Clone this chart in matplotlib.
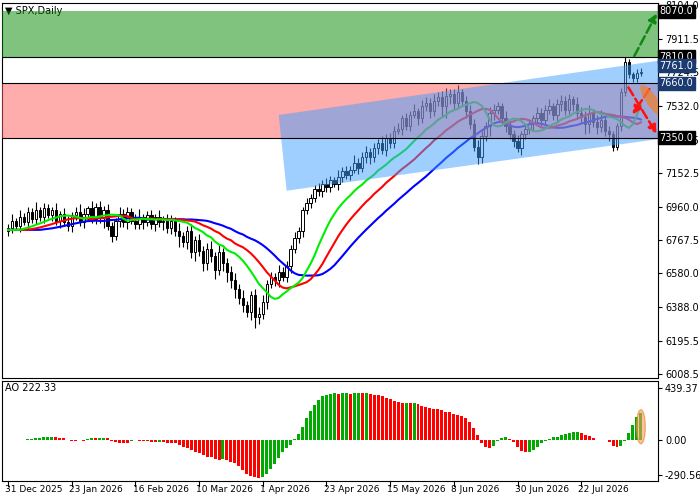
import numpy as np
import pandas as pd
import matplotlib
matplotlib.use("Agg")
import matplotlib.pyplot as plt
from matplotlib.patches import Rectangle, Polygon, Ellipse
import matplotlib.transforms as mtrans

closes = [6840, 6880, 6850, 6900, 6870, 6930, 6890, 6940, 6900,
          6950, 6910, 6940, 6880, 6920, 6870, 6850, 6910, 6930,
          6870, 6920, 6950, 6890, 6960, 6900, 6940, 6850, 6790, 6880,
          6920, 6870, 6930, 6880, 6860, 6900, 6870, 6910, 6860, 6900, 6870,
          6880, 6840, 6880, 6820, 6790, 6760, 6820, 6700, 6770, 6710, 6640, 6720, 6680,
          6600, 6700, 6640, 6590, 6540, 6490, 6440, 6400,
          6360, 6460, 6330, 6350, 6420, 6520, 6560, 6540, 6590, 6560, 6620, 6720, 6780, 6820, 6940, 6980, 7010,
          7060, 7050, 7090, 7070, 7110, 7090, 7130, 7160, 7140, 7170,
          7210, 7180, 7240, 7270, 7240, 7290, 7320, 7280, 7350, 7320,
          7390, 7400, 7460, 7420, 7480, 7500, 7460, 7530, 7550, 7500,
          7560, 7580, 7530, 7590, 7600, 7550, 7610, 7560,
          7500, 7430, 7300, 7240, 7360, 7420, 7490,
          7510, 7530, 7460, 7420, 7370, 7330, 7290, 7370, 7400, 7430,
          7460, 7490, 7450, 7510, 7530, 7480, 7540, 7560, 7510, 7570,
          7540, 7490, 7470, 7430, 7490, 7440, 7410, 7450, 7390, 7370, 7300,
          7420, 7610, 7780, 7710, 7690, 7720, 7724.5]
wick_up = [20, 35, 15, 40, 25, 30, 20, 45, 15, 30, 25, 20, 40, 15, 30, 35, 20, 25, 45, 30,
           15, 40, 20, 30, 25, 35, 20, 15, 40, 25, 30, 20, 35, 45, 15, 25, 30, 20, 40, 25,
           35, 30, 20, 45, 25, 30, 40, 20, 35, 25, 30, 45, 20, 40, 25, 30, 35, 40, 30, 45,
           25, 20, 30, 40, 35, 25, 30, 20, 40, 25, 30, 20, 35, 25, 15, 30, 20, 25, 35, 20,
           30, 25, 20, 35, 25, 30, 20, 40, 25, 30, 35, 20, 30, 25, 40, 20, 30, 25, 35, 20,
           30, 25, 40, 20, 35, 30, 25, 40, 30, 35, 45, 30, 25, 40, 20, 30, 35, 25, 40, 30,
           20, 35, 30, 25, 20, 40, 30, 25, 35, 20, 30, 25, 20, 35, 30, 25, 40, 20, 30, 35,
           25, 30, 20, 40, 35, 30, 45, 25, 40, 60, 30, 25, 20, 15, 25, 30, 20, 15]
wick_dn = [25, 30, 20, 35, 15, 40, 25, 30, 20, 35, 15, 30, 25, 40, 20, 30, 35, 25, 20, 30,
           40, 25, 30, 35, 60, 25, 30, 20, 35, 25, 40, 20, 30, 25, 35, 20, 30, 40, 25, 45,
           30, 35, 25, 60, 30, 40, 35, 50, 30, 45, 40, 35, 50, 30, 45, 60, 40, 50, 35, 40,
           30, 45, 60, 35, 30, 40, 25, 30, 35, 25, 30, 40, 25, 30, 35, 20, 30, 25, 30, 35,
           25, 30, 20, 35, 30, 25, 30, 20, 35, 25, 30, 40, 25, 30, 20, 35, 25, 30, 20, 35,
           25, 30, 20, 35, 25, 30, 40, 25, 30, 60, 70, 50, 40, 30, 25, 35, 30, 25, 40, 35,
           30, 60, 40, 25, 30, 35, 25, 30, 20, 35, 25, 30, 40, 25, 30, 35, 25, 30, 40, 35,
           30, 25, 40, 35, 30, 60, 50, 30, 40, 25, 30, 35, 25, 20, 30, 25, 20, 20]
first_open = 6820
date_labels = ["31 Dec 2025", "23 Jan 2026", "16 Feb 2026", "10 Mar 2026", "1 Apr 2026",
               "23 Apr 2026", "15 May 2026", "8 Jun 2026", "30 Jun 2026", "22 Jul 2026"]
date_idx = [0, 16, 32, 48, 64, 80, 96, 112, 128, 144]
price_ticks = [8104.0, 7911.5, 7724.5, 7532.0, 7339.5, 7152.5, 6960.0, 6767.5, 6580.0, 6388.0, 6195.5, 6008.5]
zone_green = (7810.0, 8070.0)
zone_red = (7350.0, 7660.0)
level_labels_black = [8070.0, 7810.0, 7350.0]
level_labels_blue = [7761.0, 7660.0]
channel_upper = [(68, 7480), (164, 7790)]
channel_lower = [(70, 7050), (164, 7345)]
ao_ticks = [439.37, 0.0, -290.56]
ao_title = "AO 222.33"

n = len(closes)
wick_up = (wick_up + [20] * n)[:n]
wick_dn = (wick_dn + [20] * n)[:n]
c = np.array(closes, float)
o = np.concatenate([[first_open], c[:-1]])
h = np.maximum(o, c) + np.array(wick_up)
l = np.minimum(o, c) - np.array(wick_dn)
x = np.arange(n)
med = pd.Series((h + l) / 2)

jaw = med.ewm(alpha=1 / 13, adjust=False).mean().shift(8).bfill()
teeth = med.ewm(alpha=1 / 8, adjust=False).mean().shift(5).bfill()
lips = med.ewm(alpha=1 / 5, adjust=False).mean().shift(3).bfill()
ao = (med.rolling(5, min_periods=1).mean() - med.rolling(34, min_periods=1).mean()).values

plt.rcParams['font.family'] = ['DejaVu Sans']
fig = plt.figure(figsize=(7, 5), dpi=100)
ax = fig.add_axes([0.003, 0.244, 0.937, 0.75])
ax2 = fig.add_axes([0.003, 0.038, 0.937, 0.2])
XMIN, XMAX = -1.5, 163.3
for a in (ax, ax2):
    a.set_xlim(XMIN, XMAX)
    a.yaxis.tick_right()
    a.tick_params(axis='y', labelsize=7, length=3, pad=2)
    a.tick_params(axis='x', length=0)
    a.set_xticks([])
    for sp in a.spines.values():
        sp.set_linewidth(0.8)

ax.set_ylim(5986, 8116)
ax.set_yticks(price_ticks)
ax.set_yticklabels([f"{v:.1f}" for v in price_ticks])

for i in x:
    ax.vlines(i, l[i], h[i], color='black', lw=0.8, zorder=2)
    up = c[i] >= o[i]
    bot = min(o[i], c[i]); ht = max(abs(c[i] - o[i]), 2)
    ax.add_patch(Rectangle((i - 0.3, bot), 0.6, ht, facecolor='white' if up else 'black',
                           edgecolor='black', lw=0.7, zorder=3))
ax.plot(x, jaw, color='#0000ff', lw=1.5, zorder=4)
ax.plot(x, teeth, color='#ff0000', lw=1.5, zorder=4)
ax.plot(x, lips, color='#00ee00', lw=1.5, zorder=4)

ax.axhspan(*zone_green, color='#008800', alpha=0.5, lw=0, zorder=5)
ax.axhspan(*zone_red, color='#ff5a5a', alpha=0.5, lw=0, zorder=5)
for v in (zone_green[0], zone_red[1], zone_red[0]):
    ax.axhline(v, color='black', lw=0.8, zorder=6)
ax.add_patch(Polygon([channel_upper[0], channel_upper[1], channel_lower[1], channel_lower[0]],
                     closed=True, facecolor='#40a0ff', alpha=0.5, lw=0, zorder=5))

ap = dict(arrowstyle='-|>', lw=1.8, ls='--', mutation_scale=12)
ax.annotate('', xy=(163.3, 8070), xytext=(157, 7800), arrowprops=dict(ap, color='#118811'), zorder=7)
ax.annotate('', xy=(163.3, 7360), xytext=(155.5, 7650), arrowprops=dict(ap, color='#ff1111'), zorder=7)
ax.annotate('', xy=(156.5, 7470), xytext=(161.5, 7640), arrowprops=dict(ap, color='#ff1111'), zorder=7)
tr = fig.dpi_scale_trans + mtrans.ScaledTranslation(161.8, 7560, ax.transData)
ax.add_patch(Ellipse((0, 0), 0.11, 0.38, angle=35, transform=tr, facecolor='#f08030', alpha=0.75, lw=0, zorder=7))

for v in level_labels_black:
    ax.text(1.002, v, f"{v:.1f}", transform=ax.get_yaxis_transform(), fontsize=7, color='white',
            va='center', ha='left', bbox=dict(boxstyle='square,pad=0.15', fc='black', ec='black'), zorder=10)
for v in level_labels_blue:
    ax.text(1.002, v, f"{v:.1f}", transform=ax.get_yaxis_transform(), fontsize=7, color='white',
            va='center', ha='left', bbox=dict(boxstyle='square,pad=0.15', fc='#1a3a70', ec='#1a3a70'), zorder=10)

ax.text(0.004, 0.993, "\u25BC SPX,Daily", transform=ax.transAxes, fontsize=7, va='top', ha='left')

ao_cols = ['#00aa00' if (i > 0 and ao[i] >= ao[i - 1]) else '#ff0000' for i in x]
ax2.bar(x, ao, width=0.75, color=ao_cols, zorder=2)
ax2.set_ylim(-345, 500)
ax2.set_yticks(ao_ticks)
ax2.set_yticklabels([f"{v:.2f}" for v in ao_ticks])
ax2.text(0.004, 0.98, ao_title, transform=ax2.transAxes, fontsize=7, va='top', ha='left')
ax2.add_patch(Ellipse((n - 1, ao[-1] / 2), 2.2, abs(ao[-1]) + 60, facecolor='#f5a060', alpha=0.6,
                      edgecolor='#f08030', lw=1, zorder=3))
for i, lab in zip(date_idx, date_labels):
    fig.text(0.003 + 0.937 * (i - XMIN) / (XMAX - XMIN) - 0.004, 0.022, lab, fontsize=6.5, ha='left', va='center')
    ax2.axvline(i, ymin=-0.05, ymax=0, color='black', lw=0.8, clip_on=False)

fig.savefig("out.png", dpi=100)
